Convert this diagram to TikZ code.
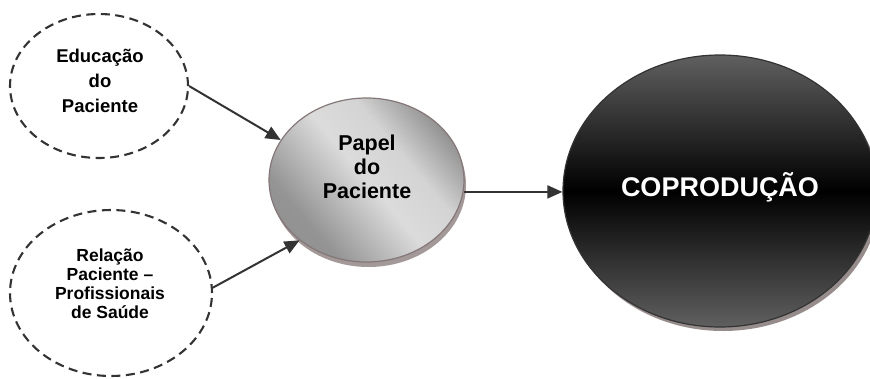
\documentclass[tikz,border=0pt]{standalone}
\usepackage{fontspec}
\setmainfont{Liberation Sans}
\usetikzlibrary{shapes.geometric,arrows.meta,shadows}
\definecolor{dk}{HTML}{333333}
\definecolor{rim}{HTML}{857777}
\definecolor{shd}{HTML}{8C7F7F}
\pgfdeclarehorizontalshading{papsh}{100bp}{color(0bp)=(black!46); color(30bp)=(black!42); color(50bp)=(black!14); color(62bp)=(black!17); color(76bp)=(black!44); color(100bp)=(black!48)}
\tikzset{
  dashell/.style={ellipse, draw=dk, line width=2.1pt, dash pattern=on 9pt off 5.5pt, inner sep=0pt},
  conn/.style={draw=dk, line width=2pt, -{Triangle[length=15pt,width=13pt]}},
  lbl/.style={align=center, text=black, inner sep=0pt},
}
\begin{document}
\begin{tikzpicture}[x=1pt,y=-1pt]
\useasboundingbox (0,0) rectangle (870,378);
\clip (0,0) rectangle (870,378);
\node[dashell, minimum width=178pt, minimum height=144pt] (edu) at (99,86) {};
\node[dashell, minimum width=202pt, minimum height=166pt] (rel) at (111,293) {};
\node[ellipse, draw=rim, line width=1.2pt, inner sep=0pt, minimum width=195pt, minimum height=164pt,
  shading=papsh, shading angle=40,
  drop shadow={shadow xshift=2pt, shadow yshift=-5pt, fill=shd, opacity=0.8}] (pap) at (366.5,180) {};
\node[ellipse, draw=dk, line width=1.2pt, inner sep=0pt, minimum width=314pt, minimum height=272pt,
  top color=gray!75!black, bottom color=gray!75!black, middle color=black,
  drop shadow={shadow xshift=3pt, shadow yshift=-4pt, fill=shd, opacity=0.9}] (cop) at (720,191) {};
\node[lbl, font={\fontsize{18.5}{25}\selectfont\bfseries}] (tedu) at (100,81) {Educação\\do\\Paciente};
\node[lbl, font={\fontsize{17.5}{19}\selectfont\bfseries}] (trel) at (110,283.5) {Relação\\Paciente –\\Profissionais\\de Saúde};
\node[lbl, font={\fontsize{21.5}{24}\selectfont\bfseries}] (tpap) at (367,166.5) {Papel\\do\\Paciente};
\node[lbl, anchor=base, text=white, font={\fontsize{27}{30}\selectfont\bfseries}] (tcop) at (720,196.7) {COPRODUÇÃO};
\draw[conn] (edu.east) -- (pap.155);
\draw[conn] (rel.3) -- (pap.222);
\draw[conn] (pap.-7) -- (pap.-7 -| cop.west);
\end{tikzpicture}
\end{document}
